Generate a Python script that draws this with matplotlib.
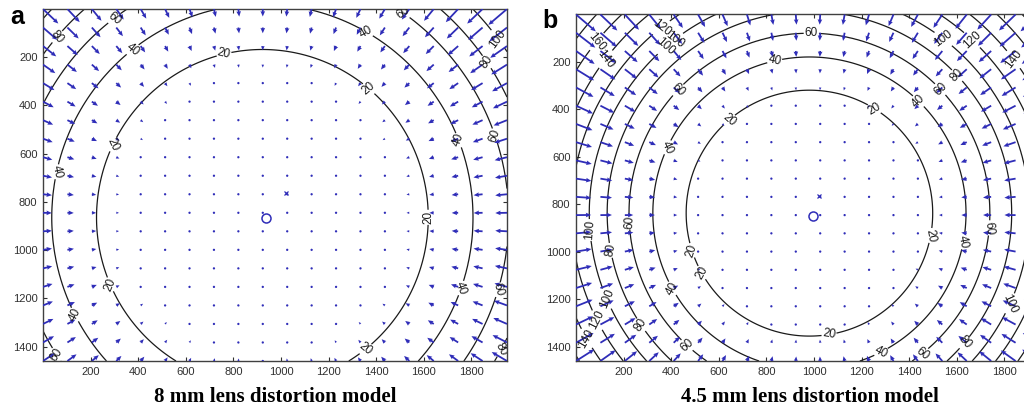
import numpy as np
import matplotlib
matplotlib.use("Agg")
import matplotlib.pyplot as plt

plt.rcParams["font.family"] = ["Liberation Sans", "DejaVu Sans"]

# image extent (pixels) shared by both panels
img_w = 1950
img_h = 1460
image_center = (1020, 765)

# panel a: 8 mm lens, contour level -> radius from the distortion centre
a_levels = [20, 40, 60, 80, 100]
a_radii = [697, 885, 1035, 1143, 1237]
a_center = (922, 865)
a_principal = (937, 865)

# panel b: 4.5 mm lens
b_levels = [20, 40, 60, 80, 100, 120, 140, 160, 180]
b_radii = [518, 658, 758, 850, 925, 1000, 1075, 1150, 1225]
b_center = (981, 837)
b_principal = (994, 848)

x_ticks = [200, 400, 600, 800, 1000, 1200, 1400, 1600, 1800]
y_ticks = [200, 400, 600, 800, 1000, 1200, 1400]

ARROW = "#2f2db8"

# where the contour labels sit (approx. as in the original figure)
a_label_pos = [(53, 109), (305, 46), (368, 158), (760, 184), (284, 557),
               (32, 669), (1358, 96), (1514, 18), (1905, 129), (1863, 221),
               (1370, 329), (1745, 545), (1876, 533), (1602, 864),
               (1750, 1155), (1897, 1160), (1905, 1403), (1350, 1403),
               (293, 1138), (145, 1262), (65, 1428)]
b_label_pos = [(63, 95), (118, 183), (366, 65), (413, 107), (408, 158),
               (421, 310), (379, 557), (632, 431), (72, 907), (118, 999),
               (989, 74), (834, 192), (1251, 402), (1444, 360), (1528, 318),
               (1613, 246), (1550, 95), (1676, 95), (1819, 204),
               (232, 873), (493, 992), (535, 1084), (408, 1152), (118, 1202),
               (93, 1286), (34, 1371), (274, 1307), (476, 1383),
               (1474, 928), (1629, 958), (1735, 899), (1819, 1215),
               (1065, 1358), (1284, 1425), (1453, 1425), (1629, 1379)]


def radial_profile(r, radii, levels):
    rr = np.concatenate([[0.0], np.asarray(radii, float)])
    ll = np.concatenate([[0.0], np.asarray(levels, float)])
    d = np.interp(r ** 3, rr ** 3, ll)
    slope = (ll[-1] - ll[-2]) / (rr[-1] - rr[-2])
    out = r > rr[-1]
    d[out] = ll[-1] + slope * (r[out] - rr[-1])
    return d


def draw_panel(ax, levels, radii, center, principal, label_pos, scale):
    # contour field
    xs = np.linspace(0, img_w, 300)
    ys = np.linspace(0, img_h, 240)
    X, Y = np.meshgrid(xs, ys)
    R = np.hypot(X - center[0], Y - center[1])
    D = radial_profile(R, radii, levels)
    cs = ax.contour(X, Y, D, levels=levels, colors="#1a1a1a", linewidths=0.9)
    ax.clabel(cs, fmt="%d", fontsize=8.5, inline=True, inline_spacing=1,
              manual=label_pos)

    # quiver field on a 20 x 20 grid
    gx, gy = np.meshgrid(np.linspace(0, img_w, 20), np.linspace(0, img_h, 20))
    gr = np.hypot(gx - center[0], gy - center[1])
    gd = radial_profile(gr, radii, levels)
    u = -(gx - center[0]) / gr * gd
    v = -(gy - center[1]) / gr * gd
    ax.quiver(gx, gy, u, v, angles="xy", scale_units="xy", scale=scale,
              color=ARROW, units="dots", width=1.8, headwidth=2.6,
              headlength=3, headaxislength=2.7, minlength=1.4, zorder=3)

    ax.plot(*principal, "o", mfc="none", mec=ARROW, ms=6.5, mew=1.1)
    ax.plot(*image_center, "x", color=ARROW, ms=3.5, mew=0.9)

    ax.set_xlim(0, img_w)
    ax.set_ylim(img_h, 0)
    ax.set_xticks(x_ticks)
    ax.set_yticks(y_ticks)
    ax.tick_params(direction="in", length=3, width=0.8, labelsize=8,
                   colors="#303030", top=True, right=True, pad=4)
    for s in ax.spines.values():
        s.set_color("#404040")
        s.set_linewidth(1.0)


fig = plt.figure(figsize=(10.24, 4.12), dpi=100)
ax_a = fig.add_axes([43 / 1024, 51 / 412, 464 / 1024, 352 / 412])
ax_b = fig.add_axes([576 / 1024, 51 / 412, 464 / 1024, 346.5 / 412])

draw_panel(ax_a, a_levels, a_radii, a_center, a_principal, a_label_pos, 1.2)
draw_panel(ax_b, b_levels, b_radii, b_center, b_principal, b_label_pos, 1.8)

fig.text(17 / 1024, 1 - 17 / 412, "a", fontsize=18, fontweight="bold",
         ha="center", va="center")
fig.text(550 / 1024, 1 - 21 / 412, "b", fontsize=18, fontweight="bold",
         ha="center", va="center")

title_font = dict(family=["Liberation Serif", "DejaVu Serif"], fontsize=15,
                  fontweight="bold", ha="center", va="center")
fig.text(275 / 1024, 1 - 397 / 412, "8 mm lens distortion model", **title_font)
fig.text(810 / 1024, 1 - 397 / 412, "4.5 mm lens distortion model", **title_font)

fig.savefig("out.png", dpi=100)
